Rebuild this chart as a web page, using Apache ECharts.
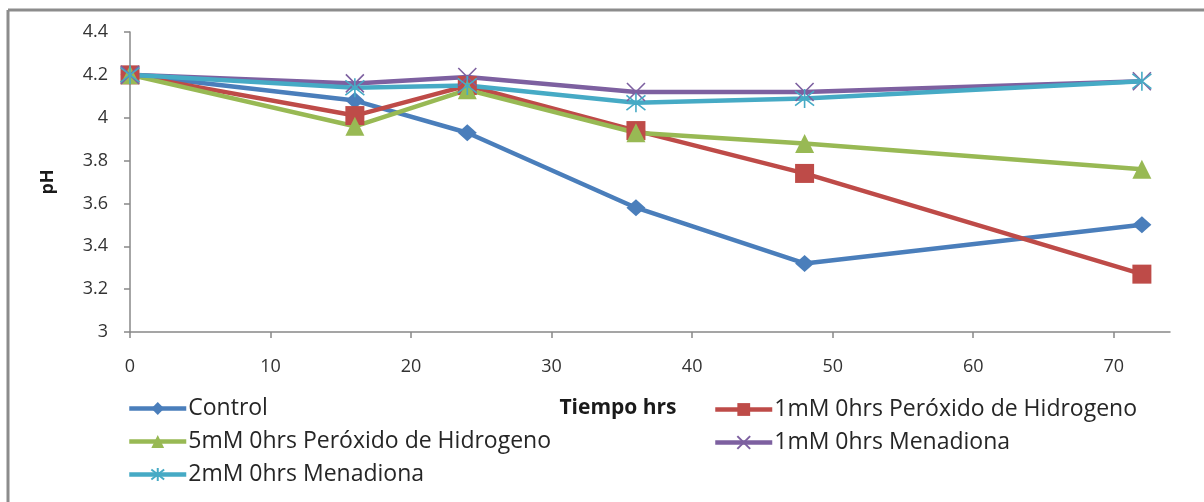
<!DOCTYPE html>
<html>
<head>
<meta charset="utf-8">
<script src="https://cdn.jsdelivr.net/npm/echarts@6/dist/echarts.min.js"></script>
<style>
  html, body { margin: 0; padding: 0; background: #ffffff; }
  #chart { width: 1204px; height: 502px; }
</style>
</head>
<body>
<div id="chart"></div>
<script>
// Sampling times (hours)
const hours = [0, 16, 24, 36, 48, 72];

// pH per treatment
const control      = [4.20, 4.08, 3.93, 3.58, 3.32, 3.50];
const perox1mM     = [4.20, 4.01, 4.15, 3.94, 3.74, 3.27];
const perox5mM     = [4.20, 3.96, 4.13, 3.93, 3.88, 3.76];
const menad1mM     = [4.20, 4.16, 4.19, 4.12, 4.12, 4.17];
const menad2mM     = [4.20, 4.14, 4.15, 4.07, 4.09, 4.17];

const seriesNames = [
  'Control',
  '1mM 0hrs Peróxido de Hidrogeno',
  '5mM 0hrs Peróxido de Hidrogeno',
  '1mM 0hrs Menadiona',
  '2mM 0hrs Menadiona'
];

const xTicks = [0, 10, 20, 30, 40, 50, 60, 70];

const colors = ['#4a7ebb', '#be4b48', '#98b954', '#7d60a0', '#46aac5'];
const font = '"Open Sans", "Noto Sans", sans-serif';

const crossPath = 'path://M0,0L10,10M10,0L0,10';
const starPath = 'path://M0,0L10,10M10,0L0,10M5,-1.5L5,11.5';

function pairs(values) {
  return hours.map((h, i) => [h, values[i]]);
}

function lineSeries(name, values, color, symbol, size, stroke) {
  return {
    name: name,
    type: 'line',
    data: pairs(values),
    symbol: symbol,
    symbolSize: size,
    lineStyle: { color: color, width: 4.5 },
    itemStyle: stroke
      ? { color: color, borderColor: color, borderWidth: 1.6 }
      : { color: color },
    emphasis: { disabled: true },
    z: 2
  };
}

const legendText = { fontFamily: font, fontSize: 23, color: '#262626', padding: [0, 0, 0, -3] };

const chart = echarts.init(document.getElementById('chart'), null, { renderer: 'canvas' });

chart.setOption({
  animation: false,
  backgroundColor: '#ffffff',
  grid: { left: 130, top: 32, right: 34, bottom: 170, containLabel: false },
  xAxis: {
    type: 'value',
    min: 0,
    max: 74,
    interval: 10,
    name: 'Tiempo hrs',
    nameLocation: 'middle',
    nameGap: 66,
    nameTextStyle: { fontFamily: font, fontWeight: 'bold', fontSize: 21, color: '#1a1a1a', padding: [0, 64, 0, 0] },
    axisLine: { lineStyle: { color: '#888888', width: 1.5 } },
    axisTick: { show: true, length: 6, inside: false, customValues: xTicks, lineStyle: { color: '#888888', width: 1.5 } },
    axisLabel: { customValues: xTicks, margin: 26, fontFamily: font, fontSize: 18, color: '#333333' },
    splitLine: { show: false }
  },
  yAxis: {
    type: 'value',
    min: 3,
    max: 4.4,
    interval: 0.2,
    name: 'pH',
    nameLocation: 'middle',
    nameRotate: 90,
    nameGap: 73,
    nameTextStyle: { fontFamily: font, fontWeight: 'bold', fontSize: 18, color: '#1a1a1a' },
    axisLine: { show: true, lineStyle: { color: '#888888', width: 1.5 } },
    axisTick: { show: true, length: 6, lineStyle: { color: '#888888', width: 1.5 } },
    axisLabel: { margin: 22, fontFamily: font, fontSize: 18, color: '#333333' },
    splitLine: { show: false }
  },
  legend: [
    {
      data: [seriesNames[0], seriesNames[2], seriesNames[4]],
      orient: 'vertical',
      left: 122,
      top: 392,
      itemWidth: 57,
      itemHeight: 16,
      itemGap: 10,
      lineStyle: { width: 4.5 },
      textStyle: legendText,
      selectedMode: false
    },
    {
      data: [seriesNames[1], seriesNames[3]],
      orient: 'vertical',
      left: 708,
      top: 393,
      itemWidth: 57,
      itemHeight: 16,
      itemGap: 10,
      lineStyle: { width: 4.5 },
      textStyle: legendText,
      selectedMode: false
    }
  ],
  graphic: [
    { type: 'line', shape: { x1: 8, y1: 10, x2: 8, y2: 502 }, style: { stroke: '#8c8c8c', lineWidth: 3 } },
    { type: 'line', shape: { x1: 8, y1: 10, x2: 1204, y2: 10 }, style: { stroke: '#8c8c8c', lineWidth: 3 } }
  ],
  series: [
    lineSeries(seriesNames[0], control, colors[0], 'diamond', [19, 17], false),
    lineSeries(seriesNames[1], perox1mM, colors[1], 'rect', 19, false),
    lineSeries(seriesNames[2], perox5mM, colors[2], 'triangle', 19, false),
    lineSeries(seriesNames[3], menad1mM, colors[3], crossPath, 18, true),
    lineSeries(seriesNames[4], menad2mM, colors[4], starPath, 19, true)
  ]
});
</script>
</body>
</html>
